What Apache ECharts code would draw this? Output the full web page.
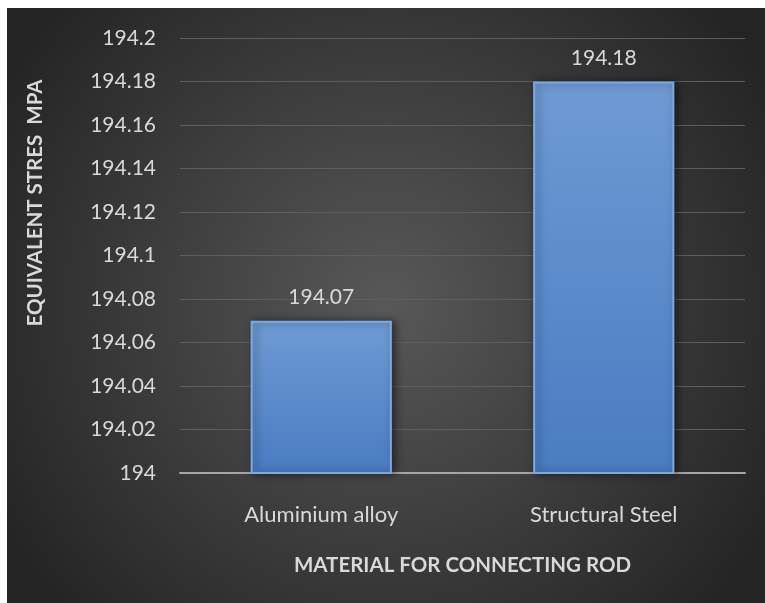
<!DOCTYPE html>
<html lang="en">
<head>
    <meta charset="UTF-8">
    <title>equivalent_stress_bar</title>
    <style type="text/css">
        html, body {
            margin: 0;
            padding: 0;
            background: #ffffff;
        }
        #box {
            position: absolute;
            left: 7px;
            top: 8px;
            width: 758px;
            height: 595px;
        }
    </style>
</head>
<body>
<div id="box"></div>
<script type="text/javascript" src="https://cdn.jsdelivr.net/npm/echarts@6/dist/echarts.min.js"></script>
<script type="text/javascript">
    let categories = ['Aluminium alloy', 'Structural Steel'];
    let stressValues = [194.07, 194.18];
    let yMin = 194;
    let yMax = 194.2;
    let yStep = 0.02;

    let font = 'Lato, "Open Sans", sans-serif';

    function barChart() {
        let myChart = echarts.init(document.getElementById('box'));
        let option = {
            backgroundColor: {
                type: 'radial',
                x: 0.5, y: 0.5, r: 0.75,
                colorStops: [
                    {offset: 0, color: '#585858'},
                    {offset: 1, color: '#242424'}
                ]
            },
            grid: {
                left: 173,
                right: 20,
                top: 30,
                bottom: 130
            },
            // y axis title, drawn by hand so it can sit off-centre like the original
            graphic: [
                {
                    type: 'text',
                    x: 28,
                    y: 195,
                    rotation: Math.PI / 2,
                    style: {
                        text: 'EQUIVALENT STRES  MPA',
                        fill: '#d9d9d9',
                        font: 'bold 20.5px ' + font,
                        align: 'center',
                        verticalAlign: 'middle'
                    }
                }
            ],
            xAxis: {
                type: 'category',
                data: categories,
                name: 'MATERIAL FOR CONNECTING ROD',
                nameLocation: 'middle',
                nameGap: 82,
                nameTextStyle: {
                    color: '#d9d9d9',
                    fontFamily: font,
                    fontSize: 20.5,
                    fontWeight: 'bold'
                },
                axisLine: {lineStyle: {color: '#a6a6a6', width: 2}},
                axisTick: {show: false},
                axisLabel: {
                    color: '#d9d9d9',
                    fontFamily: font,
                    fontSize: 22,
                    margin: 31
                }
            },
            yAxis: {
                type: 'value',
                min: yMin,
                max: yMax,
                interval: yStep,
                axisLine: {show: false},
                axisTick: {show: false},
                splitLine: {lineStyle: {color: '#5e5e5e', width: 1}},
                axisLabel: {
                    color: '#d9d9d9',
                    fontFamily: font,
                    fontSize: 21,
                    margin: 24,
                    formatter: function (v) {
                        return String(parseFloat(v.toFixed(2)));
                    }
                }
            },
            series: [
                {
                    type: 'bar',
                    data: stressValues,
                    barWidth: '50%',
                    label: {
                        show: true,
                        position: 'top',
                        distance: 13,
                        color: '#d9d9d9',
                        fontFamily: font,
                        fontSize: 21
                    },
                    itemStyle: {
                        color: {
                            type: 'linear',
                            x: 0, y: 0, x2: 0, y2: 1,
                            colorStops: [
                                {offset: 0, color: '#6f9ad4'},
                                {offset: 1, color: '#4a7cc2'}
                            ]
                        },
                        borderColor: '#7fa8dd',
                        borderWidth: 2,
                        shadowBlur: 8,
                        shadowOffsetX: 3,
                        shadowOffsetY: 0,
                        shadowColor: 'rgba(0, 0, 0, 0.5)'
                    }
                }
            ]
        };
        myChart.setOption(option);
    }

    barChart();
</script>
</body>
</html>
